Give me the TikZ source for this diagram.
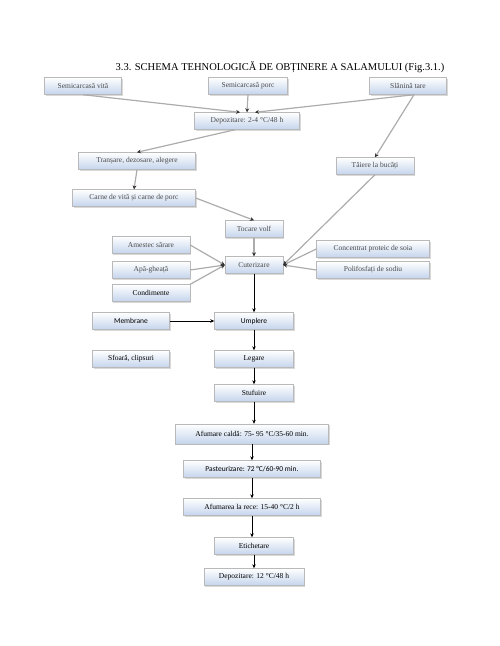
\documentclass[tikz,border=0pt]{standalone}
\usepackage{fontspec}
\setmainfont{Liberation Serif}
\newfontfamily\calfont{Carlito}
\usetikzlibrary{shadows,arrows.meta}

\definecolor{boxblue}{RGB}{196,212,236}
\tikzset{
  box/.style={draw=gray!55, top color=white, bottom color=boxblue,
    drop shadow={opacity=0.3, shadow xshift=1pt, shadow yshift=-1.2pt},
    minimum height=17pt, inner sep=1pt, font=\fontsize{7.5}{8}\selectfont},
  soft/.style={box, text=black!70},
  feed/.style={draw=gray!65, line width=1.2pt, -{Stealth[length=4pt,width=4pt,black!80]}},
  flow/.style={draw, line width=0.6pt, -{Stealth[length=4pt,width=3.5pt]}}
}

\begin{document}
\begin{tikzpicture}[x=1pt,y=-1pt]
\useasboundingbox (0,0) rectangle (500,646);
\node (title) at (280,67) {\fontsize{10.5}{12}\selectfont 3.3. SCHEMA TEHNOLOGICĂ DE OBȚINERE A SALAMULUI (Fig.3.1.)};
\path
    (83,86)  node [soft,minimum width=77pt] (vita) {Semicarcasă vită}
    (248,86) node [soft,minimum width=79pt] (porc) {Semicarcasă porc}
    (408,86) node [soft,minimum width=77pt] (slanina) {Slănină tare}
    (247,121) node [soft,minimum width=105pt] (depoz1) {Depozitare: 2-4 °C/48 h}
    (137,161) node [soft,minimum width=117pt] (transare) {Tranșare, dezosare, alegere}
    (375,166) node [soft,minimum width=78pt] (taiere) {Tăiere la bucăți}
    (134,198) node [soft,minimum width=123pt] (carne) {Carne de vită și carne de porc}
    (254,229) node [soft,minimum width=58pt] (tocare) {Tocare volf}
    (254,265) node [soft,minimum width=58pt] (cuter) {Cuterizare}
    (151,245) node [soft,minimum width=78pt] (amestec) {Amestec sărare}
    (151,270) node [soft,minimum width=78pt] (apa) {Apă-gheață}
    (151,293) node [box,minimum width=78pt] (condim) {Condimente}
    (373,249) node [soft,minimum width=113pt] (soia) {Concentrat proteic de soia}
    (373,270) node [soft,minimum width=113pt] (polif) {Polifosfați de sodiu};
\path
    (131,321) node [box,minimum width=77pt,font=\calfont\fontsize{7.5}{8}\selectfont] (membr) {Membrane}
    (254,321) node [box,minimum width=79pt,font=\calfont\fontsize{7.5}{8}\selectfont] (umplere) {Umplere}
    (131,359) node [box,minimum width=77pt] (sfoara) {Sfoară, clipsuri}
    (254,359) node [box,minimum width=79pt] (legare) {Legare}
    (254,393) node [box,minimum width=79pt] (stuf) {Stufuire}
    (252,434) node [box,minimum width=153pt,minimum height=20pt] (afcalda) {Afumare caldă: 75- 95 °C/35-60 min.}
    (252,469) node [box,minimum width=137pt,font=\calfont\fontsize{7.5}{8}\selectfont] (past) {Pasteurizare: 72 °C/60-90 min.}
    (252,507) node [box,minimum width=137pt] (afrece) {Afumarea la rece: 15-40 °C/2 h}
    (254,546) node [box,minimum width=79pt] (etich) {Etichetare}
    (254,577) node [box,minimum width=100pt] (depoz2) {Depozitare: 12 °C/48 h};
% materii prime
\draw [feed] (vita.south) -- ([xshift=-7pt]depoz1.north);
\draw [feed] (porc.south) -- (depoz1.north);
\draw [feed] ([xshift=6pt]slanina.south) -- ([xshift=8pt]depoz1.north);
\draw [feed] ([xshift=6pt]slanina.south) -- (taiere.north);
\draw [feed] ([xshift=-12pt]depoz1.south) -- (transare.north);
\draw [feed] (transare.south) -- (carne.north);
\draw [feed] (carne.east) -- (tocare.north);
\draw [feed] (tocare.south) -- (cuter.north);
\draw [feed] (taiere.south) -- (cuter.east);
\draw [feed] (amestec.east) -- (cuter.west);
\draw [feed] (apa.east) -- (cuter.west);
\draw [feed] (condim.north east) -- (cuter.west);
\draw [feed] (soia.west) -- (cuter.east);
\draw [feed] (polif.west) -- (cuter.east);
% fluxul principal
\draw [flow] (cuter.south) -- (umplere.north);
\draw [flow] (membr.east) -- (umplere.west);
\draw [flow] (umplere.south) -- (legare.north);
\draw [flow] (legare.south) -- (stuf.north);
\draw [flow] (stuf.south) -- (stuf.south |- afcalda.north);
\draw [flow] (afcalda.south) -- (past.north);
\draw [flow] (past.south) -- (afrece.north);
\draw [flow] (afrece.south) -- (afrece.south |- etich.north);
\draw [flow] (etich.south) -- (depoz2.north);
\end{tikzpicture}
\end{document}
